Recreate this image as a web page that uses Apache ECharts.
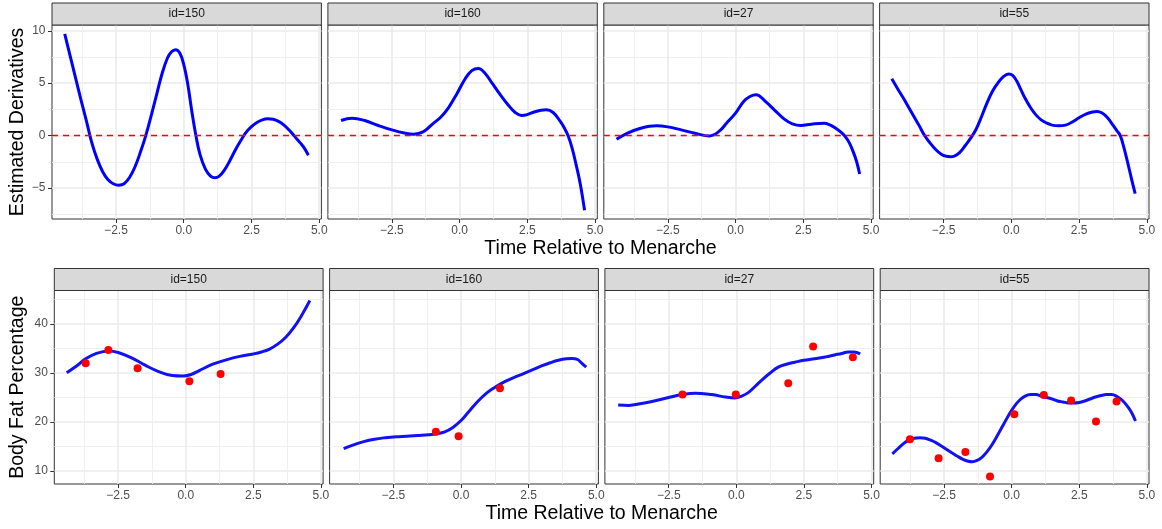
<!DOCTYPE html>
<html><head><meta charset="utf-8">
<script src="https://cdn.jsdelivr.net/npm/echarts@6/dist/echarts.min.js"></script>
<style>html,body{margin:0;padding:0;background:#fff;}#chart{width:1162px;height:529px;}</style>
</head><body><div id="chart"></div>
<script>
// ---------- data ----------
const panelIds = ['id=150', 'id=160', 'id=27', 'id=55'];
const xMajorTicks = [-2.5, 0, 2.5, 5];
const xMinorTicks = [-3.75, -1.25, 1.25, 3.75];
const derivMajorTicks = [-5, 0, 5, 10];
const derivMinorTicks = [-7.5, -2.5, 2.5, 7.5];
const fatMajorTicks = [10, 20, 30, 40];
const fatMinorTicks = [15, 25, 35, 45];
const zeroLine = 0;

const deriv150 = [[-4.39,9.71],[-4.2,7.7],[-4.0,5.6],[-3.8,3.5],[-3.6,1.5],[-3.4,-0.6],[-3.2,-2.2],[-3.0,-3.4],[-2.8,-4.2],[-2.6,-4.6],[-2.4,-4.73],[-2.2,-4.6],[-2.0,-4.0],[-1.8,-3.0],[-1.6,-1.6],[-1.4,0.0],[-1.2,1.9],[-1.0,3.9],[-0.8,5.9],[-0.6,7.4],[-0.45,8.0],[-0.3,8.2],[-0.15,7.9],[0.0,6.8],[0.15,4.9],[0.3,2.3],[0.45,0.0],[0.6,-1.8],[0.8,-3.2],[1.0,-3.9],[1.15,-4.03],[1.3,-3.9],[1.5,-3.3],[1.7,-2.4],[1.9,-1.4],[2.1,-0.5],[2.3,0.3],[2.5,0.85],[2.7,1.25],[2.9,1.5],[3.1,1.6],[3.3,1.55],[3.5,1.35],[3.7,1.0],[3.9,0.5],[4.1,-0.1],[4.3,-0.7],[4.45,-1.2],[4.6,-1.88]];
const deriv160 = [[-4.375,1.44],[-3.97,1.66],[-3.5,1.44],[-3.0,0.96],[-2.5,0.54],[-2.0,0.22],[-1.7,0.13],[-1.35,0.35],[-1.0,1.1],[-0.7,1.75],[-0.4,2.7],[-0.1,4.0],[0.2,5.4],[0.45,6.2],[0.69,6.39],[0.95,5.9],[1.2,5.0],[1.5,3.9],[1.8,2.9],[2.05,2.2],[2.28,1.92],[2.5,2.0],[2.75,2.25],[3.0,2.42],[3.2,2.46],[3.45,2.2],[3.7,1.4],[3.85,0.8],[4.0,0],[4.15,-1.2],[4.3,-2.8],[4.45,-4.6],[4.61,-7.12]];
const deriv27 = [[-4.39,-0.35],[-4.0,0.22],[-3.5,0.7],[-2.92,0.93],[-2.5,0.83],[-2.0,0.54],[-1.5,0.22],[-0.96,-0.03],[-0.6,0.42],[-0.28,1.34],[0.0,2.14],[0.3,3.26],[0.55,3.75],[0.76,3.9],[1.1,3.26],[1.43,2.46],[1.8,1.57],[2.1,1.12],[2.41,0.96],[2.8,1.09],[3.27,1.18],[3.5,1.0],[3.7,0.7],[3.9,0.3],[4.05,-0.1],[4.2,-0.7],[4.35,-1.6],[4.47,-2.5],[4.58,-3.67]];
const deriv55 = [[-4.41,5.43],[-4.2,4.5],[-4.0,3.65],[-3.8,2.75],[-3.6,1.85],[-3.4,0.95],[-3.2,0.0],[-3.0,-0.7],[-2.8,-1.3],[-2.6,-1.75],[-2.4,-1.97],[-2.25,-2.01],[-2.1,-1.95],[-1.9,-1.6],[-1.7,-0.95],[-1.5,-0.25],[-1.3,0.6],[-1.1,1.8],[-0.9,3.1],[-0.7,4.2],[-0.5,5.0],[-0.3,5.6],[-0.1,5.88],[0.05,5.75],[0.2,5.2],[0.35,4.4],[0.5,3.6],[0.7,2.7],[0.9,2.0],[1.1,1.5],[1.3,1.2],[1.5,1.0],[1.75,0.93],[2.0,1.0],[2.25,1.3],[2.5,1.7],[2.75,2.05],[3.0,2.25],[3.16,2.3],[3.35,2.15],[3.55,1.7],[3.75,1.0],[3.9,0.45],[4.02,0.0],[4.15,-1.1],[4.3,-2.65],[4.45,-4.3],[4.57,-5.53]];

const fat150 = [[-4.40,30.07],[-4.0,31.6],[-3.7,32.9],[-3.3,34.0],[-2.86,34.5],[-2.5,34.2],[-2.0,33.1],[-1.5,31.6],[-1.0,30.3],[-0.5,29.5],[-0.1,29.4],[0.2,29.7],[0.5,30.5],[1.0,31.8],[1.5,32.7],[2.0,33.4],[2.5,33.9],[2.8,34.3],[3.1,34.9],[3.4,35.9],[3.7,37.3],[4.0,39.3],[4.3,41.9],[4.59,44.8]];
const fat160 = [[-4.34,14.56],[-4.0,15.3],[-3.6,16.0],[-3.2,16.5],[-2.8,16.8],[-2.4,17.0],[-2.0,17.1],[-1.6,17.25],[-1.2,17.4],[-0.9,17.6],[-0.6,18.0],[-0.3,18.9],[0.0,20.3],[0.3,22.2],[0.6,24.1],[0.9,25.7],[1.2,26.9],[1.5,27.9],[1.8,28.7],[2.1,29.4],[2.4,30.1],[2.7,30.8],[3.0,31.5],[3.3,32.1],[3.6,32.6],[3.9,32.9],[4.1,32.95],[4.3,32.8],[4.45,32.1],[4.63,31.2]];
const fat27 = [[-4.37,23.5],[-3.98,23.4],[-3.5,23.8],[-3.12,24.2],[-2.5,25.0],[-2.01,25.6],[-1.52,25.9],[-0.91,25.6],[-0.4,25.1],[-0.05,24.9],[0.2,25.3],[0.44,26.0],[0.7,27.3],[0.93,28.5],[1.25,30.0],[1.55,31.2],[1.85,31.8],[2.16,32.2],[2.5,32.6],[2.9,32.9],[3.3,33.3],[3.64,33.7],[3.9,34.0],[4.13,34.3],[4.35,34.3],[4.58,33.9]];
const fat55 = [[-4.41,13.5],[-4.2,14.6],[-4.0,15.6],[-3.8,16.3],[-3.6,16.7],[-3.4,16.8],[-3.2,16.7],[-3.0,16.3],[-2.8,15.8],[-2.6,15.1],[-2.4,14.4],[-2.2,13.7],[-2.0,13.0],[-1.8,12.4],[-1.6,12.0],[-1.45,11.9],[-1.3,12.1],[-1.1,12.8],[-0.9,14.0],[-0.7,15.6],[-0.5,17.5],[-0.3,19.5],[-0.1,21.5],[0.1,23.2],[0.3,24.5],[0.5,25.3],[0.7,25.6],[0.9,25.6],[1.1,25.3],[1.3,25.0],[1.5,24.7],[1.7,24.3],[1.9,24.1],[2.1,23.9],[2.3,23.9],[2.5,24.0],[2.7,24.3],[2.9,24.7],[3.1,25.1],[3.3,25.4],[3.5,25.6],[3.7,25.6],[3.9,25.2],[4.1,24.4],[4.3,23.1],[4.45,21.8],[4.58,20.2]];

const obs150 = [[-3.70,32.0],[-2.86,34.7],[-1.78,31.0],[0.135,28.3],[1.29,29.8]];
const obs160 = [[-0.93,18.0],[-0.09,17.1],[1.44,26.9]];
const obs27 = [[-1.99,25.6],[-0.02,25.6],[1.92,27.9],[2.84,35.4],[4.31,33.2]];
const obs55 = [[-3.76,16.5],[-2.70,12.6],[-1.71,13.9],[-0.80,8.9],[0.10,21.6],[1.19,25.5],[2.20,24.4],[3.12,20.1],[3.88,24.2]];

const derivSeries = [deriv150, deriv160, deriv27, deriv55];
const fatSeries = [fat150, fat160, fat27, fat55];
const obsSeries = [obs150, obs160, obs27, obs55];

// ---------- layout / style ----------
const FONT = "'Liberation Sans', Arial, Helvetica, sans-serif";
const X_RANGE = [-4.86, 5.08];
const DERIV_RANGE = [-7.96, 10.55];
const FAT_RANGE = [7.35, 46.85];
const TOP_LEFT = [52, 327.9, 603.8, 879.6], TOP_W = 269.4, TOP_Y = 25, TOP_H = 194, TOP_STRIP = 3;
const BOT_LEFT = [54.3, 329.6, 604.9, 880.2], BOT_W = 268.8, BOT_Y = 290.5, BOT_H = 193.5, BOT_STRIP = 268.5;
const STRIP_H = 22;

function fmt(v, d) {
  const s = Math.abs(v).toFixed(d);
  return (v < -1e-9 ? '\u2212' : '') + s;
}

const grids = [], xAxes = [], yAxes = [], series = [], graphics = [];

for (let g = 0; g < 8; g++) {
  const top = g < 4;
  const i = g % 4;
  const left = top ? TOP_LEFT[i] : BOT_LEFT[i];
  const w = top ? TOP_W : BOT_W;
  grids.push({
    left: left, top: top ? TOP_Y : BOT_Y, width: w, height: top ? TOP_H : BOT_H,
    show: true, borderColor: '#333333', borderWidth: 1, backgroundColor: 'transparent',
    containLabel: false, outerBoundsMode: 'none'
  });
  xAxes.push({
    gridIndex: g, type: 'value', min: X_RANGE[0], max: X_RANGE[1], position: 'bottom',
    axisLine: { show: false, onZero: false },
    axisTick: { show: true, length: 4, lineStyle: { color: '#333333', width: 1 }, customValues: xMajorTicks },
    axisLabel: { customValues: xMajorTicks, formatter: v => fmt(v, 1), color: '#4d4d4d', fontSize: 12, fontFamily: FONT, margin: 6 },
    splitLine: { show: true, lineStyle: { color: '#ebebeb', width: 1.6 } }
  });
  xAxes.push({
    gridIndex: g, type: 'value', min: X_RANGE[0], max: X_RANGE[1], position: 'top',
    axisLine: { show: false, onZero: false },
    axisTick: { show: false, customValues: xMinorTicks },
    axisLabel: { show: false, customValues: xMinorTicks },
    splitLine: { show: true, lineStyle: { color: '#ededed', width: 0.9 } }
  });
  const yr = top ? DERIV_RANGE : FAT_RANGE;
  const yMaj = top ? derivMajorTicks : fatMajorTicks;
  const yMin = top ? derivMinorTicks : fatMinorTicks;
  yAxes.push({
    gridIndex: g, type: 'value', min: yr[0], max: yr[1], position: 'left',
    axisLine: { show: false, onZero: false },
    axisTick: { show: i === 0, length: 4, lineStyle: { color: '#333333', width: 1 }, customValues: yMaj },
    axisLabel: { show: i === 0, customValues: yMaj, formatter: v => fmt(v, 0), color: '#4d4d4d', fontSize: 12, fontFamily: FONT, margin: 6.5 },
    splitLine: { show: true, lineStyle: { color: '#ebebeb', width: 1.6 } }
  });
  yAxes.push({
    gridIndex: g, type: 'value', min: yr[0], max: yr[1], position: 'right',
    axisLine: { show: false, onZero: false },
    axisTick: { show: false, customValues: yMin },
    axisLabel: { show: false, customValues: yMin },
    splitLine: { show: true, lineStyle: { color: '#ededed', width: 0.9 } }
  });

  if (top) {
    series.push({
      type: 'line', xAxisIndex: 2 * g, yAxisIndex: 2 * g, data: derivSeries[i],
      smooth: 0.4, showSymbol: false, symbol: 'none', z: 3,
      lineStyle: { color: '#0000ff', width: 3 },
      markLine: {
        silent: true, symbol: ['none', 'none'], label: { show: false }, animation: false,
        lineStyle: { color: '#ff0000', type: [6, 5], width: 1.4 },
        emphasis: { disabled: true },
        data: [{ yAxis: zeroLine }]
      }
    });
  } else {
    series.push({
      type: 'line', xAxisIndex: 2 * g, yAxisIndex: 2 * g, data: fatSeries[i],
      smooth: 0.4, showSymbol: false, symbol: 'none', z: 3,
      lineStyle: { color: '#1111f5', width: 3 }
    });
    series.push({
      type: 'scatter', xAxisIndex: 2 * g, yAxisIndex: 2 * g, data: obsSeries[i],
      symbol: 'circle', symbolSize: 8, z: 4,
      itemStyle: { color: '#ff0000', opacity: 1 }
    });
  }

  const sy = top ? TOP_STRIP : BOT_STRIP;
  graphics.push({
    type: 'rect', silent: true, z: 10,
    shape: { x: left, y: sy, width: w, height: STRIP_H },
    style: { fill: '#d9d9d9', stroke: '#333333', lineWidth: 1 }
  });
  graphics.push({
    type: 'text', silent: true, z: 11, x: left + w / 2, y: sy + STRIP_H / 2,
    style: { text: panelIds[i], font: '12px ' + FONT, fill: '#1a1a1a',
      align: 'center', verticalAlign: 'middle', textAlign: 'center', textVerticalAlign: 'middle' }
  });
}

function title(text, x, y, rot) {
  graphics.push({
    type: 'text', silent: true, z: 11, x: x, y: y, rotation: rot || 0,
    style: { text: text, font: '19.5px ' + FONT, fill: '#000000',
      align: 'center', verticalAlign: 'middle', textAlign: 'center', textVerticalAlign: 'middle' }
  });
}
title('Estimated Derivatives', 18, TOP_Y + TOP_H / 2, Math.PI / 2);
title('Body Fat Percentage', 18, BOT_Y + BOT_H / 2, Math.PI / 2);
title('Time Relative to Menarche', (TOP_LEFT[0] + TOP_LEFT[3] + TOP_W) / 2, 249);
title('Time Relative to Menarche', (BOT_LEFT[0] + BOT_LEFT[3] + BOT_W) / 2, 514);

const chart = echarts.init(document.getElementById('chart'), null, { renderer: 'canvas' });
chart.setOption({
  animation: false,
  backgroundColor: '#ffffff',
  textStyle: { fontFamily: FONT },
  grid: grids,
  xAxis: xAxes,
  yAxis: yAxes,
  series: series,
  graphic: graphics
});
</script>
</body></html>
